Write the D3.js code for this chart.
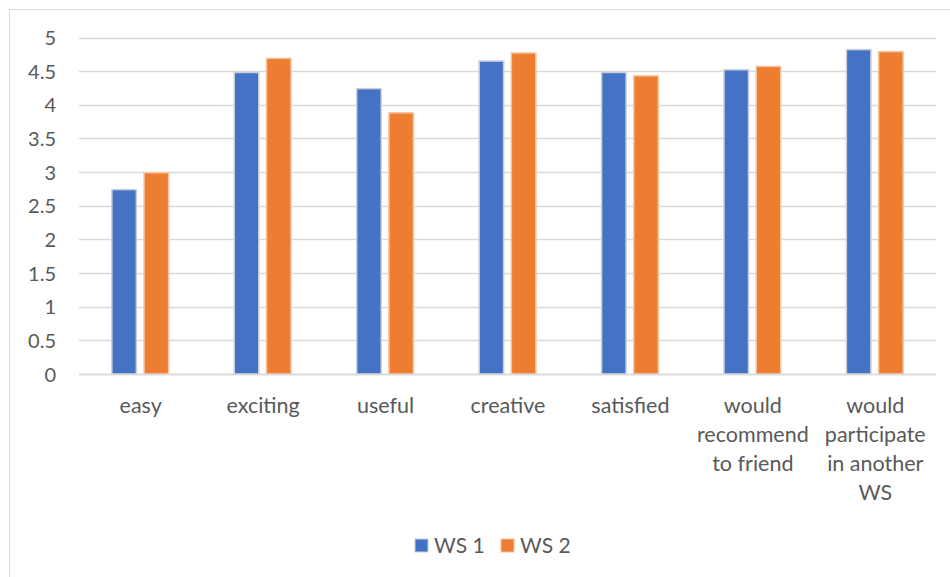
<!DOCTYPE html>
<html>
<head>
<meta charset="utf-8">
<script src="https://cdn.jsdelivr.net/npm/d3@7"></script>
<style>
  html, body { margin: 0; padding: 0; background: #fff; }
  svg { display: block; }
  text { font-family: Lato, "Open Sans", sans-serif; fill: #595959; }
</style>
</head>
<body>
<script>
const categories = [
  ["easy"],
  ["exciting"],
  ["useful"],
  ["creative"],
  ["satisfied"],
  ["would", "recommend", "to friend"],
  ["would", "participate", "in another", "WS"]
];
const seriesNames = ["WS 1", "WS 2"];
const ws1 = [2.74, 4.48, 4.24, 4.65, 4.48, 4.52, 4.82];
const ws2 = [2.99, 4.69, 3.88, 4.77, 4.43, 4.57, 4.79];
const yTicks = [0, 0.5, 1, 1.5, 2, 2.5, 3, 3.5, 4, 4.5, 5];
const colors = ["#4472C4", "#ED7D31"];
const strokes = ["#c9cedb", "#f7c39c"];

(function () {
const W = 950, H = 577;
const svg = d3.select("body").append("svg").attr("width", W).attr("height", H);

// chart border
svg.append("rect").attr("x", 9.5).attr("y", 9.5).attr("width", W + 10).attr("height", H + 10)
  .attr("fill", "none").attr("stroke", "#d9d9d9").attr("stroke-width", 1);

const pl = 79, pr = 936, pt = 37.5, pb = 374;
const idx = categories.map((d, i) => i);
const x = d3.scaleBand().domain(idx).range([pl, pr]).paddingInner(0).paddingOuter(0);
const y = d3.scaleLinear().domain([0, 5]).range([pb, pt]);

// gridlines
svg.append("g").selectAll("line").data(yTicks).join("line")
  .attr("x1", pl).attr("x2", pr)
  .attr("y1", d => Math.round(y(d)) + 0.5).attr("y2", d => Math.round(y(d)) + 0.5)
  .attr("stroke", "#d9d9d9").attr("stroke-width", 1.5);

// y axis labels
const yAxis = d3.axisLeft(y).tickValues(yTicks).tickSize(0).tickPadding(0).tickFormat(d3.format(""));
const gy = svg.append("g").attr("transform", `translate(${pl - 23},0)`).call(yAxis);
gy.select(".domain").remove();
gy.selectAll("text").attr("font-size", 20).attr("fill", "#595959")
  .style("font-family", "Lato, 'Open Sans', sans-serif").attr("dy", "0.35em");

// bars
const series = [ws1, ws2];
const x1 = d3.scaleBand().domain([0, 1]).range([0, x.bandwidth()]).paddingInner(0.24).paddingOuter(1.02);
series.forEach((vals, s) => {
  svg.append("g").selectAll("rect").data(vals).join("rect")
    .attr("x", (d, i) => x(i) + x1(s))
    .attr("width", x1.bandwidth())
    .attr("y", d => y(d))
    .attr("height", d => y(0) - y(d))
    .attr("fill", colors[s])
    .attr("stroke", strokes[s])
    .attr("stroke-width", 1.5);
});

// x axis line
svg.append("line").attr("x1", pl).attr("x2", pr).attr("y1", pb + 0.5).attr("y2", pb + 0.5)
  .attr("stroke", "#d9d9d9").attr("stroke-width", 1.5);

// x labels
const gx = svg.append("g");
categories.forEach((lines, i) => {
  const cx = x(i) + x.bandwidth() / 2 + 0.5;
  const t = gx.append("text").attr("text-anchor", "middle").attr("font-size", 21.5)
    .attr("x", cx).attr("y", 413);
  lines.forEach((ln, j) => {
    t.append("tspan").attr("x", cx).attr("dy", j === 0 ? 0 : 29).text(ln);
  });
});

// legend
const legend = svg.append("g");
const legendX = [415, 501];
seriesNames.forEach((n, s) => {
  legend.append("rect").attr("x", legendX[s]).attr("y", 539).attr("width", 13).attr("height", 13)
    .attr("fill", colors[s]).attr("stroke", strokes[s]).attr("stroke-width", 1);
  legend.append("text").attr("x", legendX[s] + 19).attr("y", 553).attr("font-size", 21).text(n);
});
})();
</script>
</body>
</html>
